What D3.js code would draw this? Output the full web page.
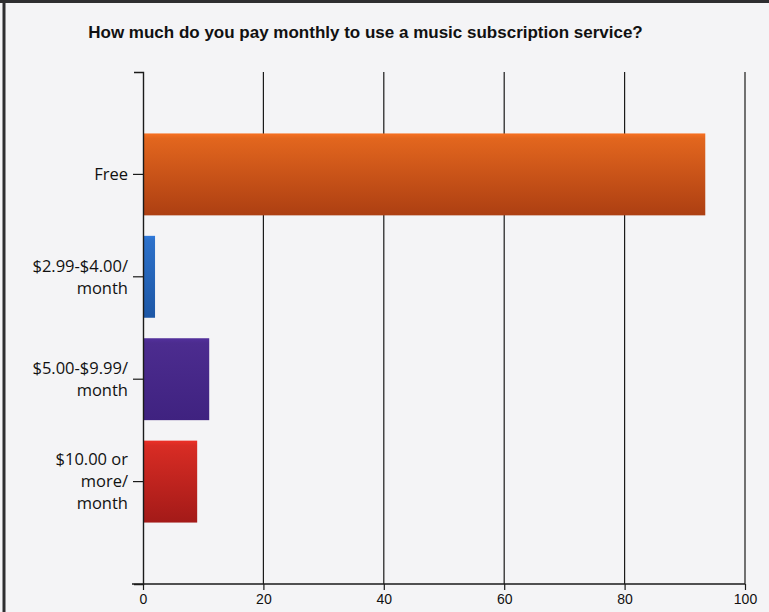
<!DOCTYPE html>
<html>
<head>
<meta charset="utf-8">
<script src="https://cdn.jsdelivr.net/npm/d3@7"></script>
<style>
  html, body { margin: 0; padding: 0; background: #f3f3f5; }
  svg { display: block; }
</style>
</head>
<body>
<svg id="chart" width="769" height="612"></svg>
<script>
// Survey answers: monthly spend on a music subscription service
const categories = ["Free", "$2.99-$4.00/ month", "$5.00-$9.99/ month", "$10.00 or more/ month"];
const categoryLines = [["Free"], ["$2.99-$4.00/", "month"], ["$5.00-$9.99/", "month"], ["$10.00 or", "more/", "month"]];
const values = [93.4, 2, 11, 9];
const xTicks = [0, 20, 40, 60, 80, 100];
const barColors = [
  ["#e2661e", "#ad3f12"],
  ["#2c70c9", "#1d57a6"],
  ["#4c2c8f", "#3f2280"],
  ["#d82c24", "#a31a18"]
];
const title = "How much do you pay monthly to use a music subscription service?";

const svg = d3.select("#chart");
const W = 769, H = 612;
const plot = { left: 143, right: 745, top: 72, bottom: 584 };

// page background and frame edges
svg.append("rect").attr("width", W).attr("height", H).attr("fill", "#f4f4f6");
svg.append("line").attr("x1", 4).attr("x2", 4).attr("y1", 0).attr("y2", H)
  .attr("stroke", "#2e2e30").attr("stroke-width", 3);
svg.append("line").attr("x1", 0).attr("x2", W).attr("y1", 1.5).attr("y2", 1.5)
  .attr("stroke", "#2e2e30").attr("stroke-width", 3);

const x = d3.scaleLinear().domain([0, 100]).range([plot.left, plot.right]);
const y = d3.scaleBand().domain(categories).range([plot.top, plot.bottom])
  .paddingInner(0.2).paddingOuter(0.6);

// gradients for each bar
const defs = svg.append("defs");
barColors.forEach((c, i) => {
  const g = defs.append("linearGradient").attr("id", "bar" + i)
    .attr("x1", 0).attr("y1", 0).attr("x2", 0).attr("y2", 1);
  g.append("stop").attr("offset", "0%").attr("stop-color", d3.color(c[0]).brighter(0.25));
  g.append("stop").attr("offset", "6%").attr("stop-color", c[0]);
  g.append("stop").attr("offset", "100%").attr("stop-color", c[1]);
});

// title
svg.append("text")
  .attr("x", 365.5).attr("y", 38)
  .attr("text-anchor", "middle")
  .attr("font-family", "'Liberation Sans', Arial, sans-serif")
  .attr("font-weight", "bold")
  .attr("font-size", 17)
  .attr("fill", "#111")
  .text(title);

// vertical gridlines
svg.append("g").selectAll("line")
  .data(xTicks.filter(d => d > 0))
  .join("line")
  .attr("x1", d => x(d)).attr("x2", d => x(d))
  .attr("y1", plot.top).attr("y2", plot.bottom)
  .attr("stroke", "#1a1a1a").attr("stroke-width", 1.2);

// bars
svg.append("g").selectAll("rect")
  .data(values)
  .join("rect")
  .attr("x", x(0))
  .attr("y", (d, i) => y(categories[i]))
  .attr("width", d => x(d) - x(0))
  .attr("height", y.bandwidth())
  .attr("fill", (d, i) => `url(#bar${i})`);

// x axis
const xAxis = svg.append("g")
  .attr("transform", `translate(0,${plot.bottom})`)
  .call(d3.axisBottom(x).tickValues(xTicks).tickSize(6).tickSizeOuter(0).tickPadding(4));
xAxis.select(".domain").remove();
xAxis.append("line").attr("x1", plot.left - 11).attr("x2", plot.right)
  .attr("stroke", "#1a1a1a").attr("stroke-width", 1.4);
xAxis.selectAll(".tick line").attr("stroke", "#1a1a1a").attr("stroke-width", 1.2);
xAxis.selectAll(".tick text")
  .attr("font-family", "'Liberation Sans Narrow', 'Arial Narrow', 'Liberation Sans', sans-serif")
  .attr("font-size", 14)
  .attr("fill", "#111");

// y axis
const yAxis = svg.append("g")
  .attr("transform", `translate(${plot.left},0)`)
  .call(d3.axisLeft(y).tickSize(10).tickSizeOuter(9).tickFormat(""));
yAxis.select(".domain").attr("stroke", "#1a1a1a").attr("stroke-width", 1.4);
yAxis.selectAll(".tick line").attr("stroke", "#1a1a1a").attr("stroke-width", 1.2);

// multi-line category labels
const lineH = 22;
svg.append("g").selectAll("text")
  .data(categories)
  .join("text")
  .attr("text-anchor", "end")
  .attr("font-family", "'Open Sans', sans-serif")
  .attr("font-size", 16.5)
  .attr("fill", "#111")
  .each(function (d, i) {
    const lines = categoryLines[i];
    const cy = y(d) + y.bandwidth() / 2;
    const t = d3.select(this);
    lines.forEach((ln, k) => {
      t.append("tspan")
        .attr("x", 128)
        .attr("y", cy + (k - (lines.length - 1) / 2) * lineH)
        .attr("dy", "0.35em")
        .text(ln);
    });
  });
</script>
</body>
</html>
